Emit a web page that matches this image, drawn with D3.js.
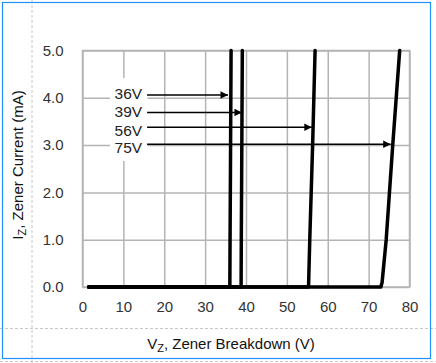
<!DOCTYPE html>
<html>
<head>
<meta charset="utf-8">
<script src="https://cdn.jsdelivr.net/npm/d3@7"></script>
<style>
  body { margin: 0; background: #fff; }
  text { font-family: "Liberation Sans", Arial, sans-serif; }
</style>
</head>
<body>
<div id="chart"></div>
<script>
// tick labels
var xTicks = [0, 10, 20, 30, 40, 50, 60, 70, 80];
var yTicks = [0, 1, 2, 3, 4, 5];

// curves: [Vz (V), Iz (mA)]
var curve36 = [[1.5, 0], [36.05, 0], [36.1, 1], [36.2, 2.5], [36.35, 5]];
var curve39 = [[1.5, 0], [38.8, 0], [38.85, 1], [38.95, 2.5], [39.1, 5]];
var curve56 = [[1.5, 0], [55.3, 0], [55.6, 1], [55.95, 2], [56.3, 3], [56.6, 4], [56.9, 5]];
var curve75 = [[1.5, 0], [73.0, 0], [73.3, 0.1], [74.3, 1], [75.1, 2], [75.9, 3], [76.75, 4], [77.6, 5]];

// arrow annotations
var arrowLabels = ["36V", "39V", "56V", "75V"];
var labelI = [3.97, 3.59, 3.2, 2.83];
var arrowI = [4.06, 3.69, 3.38, 3.02];
var arrowTipV = [35.6, 39.0, 56.1, 75.4];

var W = 436, H = 363;

var svg = d3.select('#chart')
    .append("svg")
    .attr("width", W)
    .attr("height", H);

var x = d3.scaleLinear().domain([0, 80]).range([82.5, 409.5]),
    y = d3.scaleLinear().domain([0, 5]).range([287, 50.5]);

svg.append("defs").append("marker")
    .attr("id", "head")
    .attr("viewBox", "0 0 10 10")
    .attr("refX", 10).attr("refY", 5)
    .attr("markerWidth", 6).attr("markerHeight", 5)
    .attr("markerUnits", "strokeWidth")
    .attr("orient", "auto")
    .append("path")
    .attr("d", "M0,0L10,5L0,10Z")
    .attr("fill", "#000");

// frame lines around the figure
svg.append("line").attr("x1", 32).attr("x2", 32).attr("y1", 0).attr("y2", H)
    .attr("stroke", "#c8c8c8").attr("stroke-dasharray", "3,2");
svg.append("line").attr("x1", 0).attr("x2", W).attr("y1", 328.5).attr("y2", 328.5)
    .attr("stroke", "#c8c8c8").attr("stroke-dasharray", "3,2");
svg.append("line").attr("x1", 0).attr("x2", W).attr("y1", 361.5).attr("y2", 361.5)
    .attr("stroke", "#c8c8c8").attr("stroke-dasharray", "3,2");
svg.append("rect")
    .attr("x", 2.5).attr("y", 2.5).attr("width", 428).attr("height", 356)
    .attr("fill", "none").attr("stroke", "#1e90ff").attr("stroke-width", 1.2);

var g = svg.append("g");

// grid
g.append("g")
    .attr("class", "grid")
    .attr("transform", "translate(0," + y(0) + ")")
    .call(d3.axisBottom(x).tickValues(xTicks).tickSize(-(y(0) - y(5))).tickFormat(""))
    .call(function (s) { s.select(".domain").remove(); });

g.append("g")
    .attr("class", "grid")
    .attr("transform", "translate(" + x(0) + ",0)")
    .call(d3.axisLeft(y).tickValues(yTicks).tickSize(-(x(80) - x(0))).tickFormat(""))
    .call(function (s) { s.select(".domain").remove(); });

g.selectAll(".grid line").attr("stroke", "#b4b4b4").attr("stroke-width", 1.5);

g.append("rect")
    .attr("x", x(0)).attr("y", y(5))
    .attr("width", x(80) - x(0)).attr("height", y(0) - y(5))
    .attr("fill", "none").attr("stroke", "#b4b4b4").attr("stroke-width", 1.5);

// tick labels
var xAx = g.append("g")
    .attr("transform", "translate(0," + y(0) + ")")
    .call(d3.axisBottom(x).tickValues(xTicks).tickSize(0).tickPadding(14));
xAx.select(".domain").remove();
xAx.selectAll("text").attr("font-size", 15).attr("fill", "#333").attr("font-family", "Liberation Sans, Arial, sans-serif");

var yAx = g.append("g")
    .attr("transform", "translate(" + x(0) + ",0)")
    .call(d3.axisLeft(y).tickValues(yTicks).tickSize(0).tickPadding(19).tickFormat(d3.format(".1f")));
yAx.select(".domain").remove();
yAx.selectAll("text").attr("font-size", 15).attr("fill", "#333").attr("font-family", "Liberation Sans, Arial, sans-serif");

// label backdrop
g.append("rect")
    .attr("x", 110).attr("y", 78).attr("width", 37.5).attr("height", 83)
    .attr("fill", "#fff");

// curves
var line = d3.line()
    .x(function (d) { return x(d[0]); })
    .y(function (d) { return y(d[1]); });

[curve36, curve39, curve56, curve75].forEach(function (c) {
    g.append("path")
        .datum(c)
        .attr("d", line)
        .attr("fill", "none")
        .attr("stroke", "#000")
        .attr("stroke-width", 3.5)
        .attr("stroke-linejoin", "round")
        .attr("stroke-linecap", "round");
});

// annotations
arrowLabels.forEach(function (lab, i) {
    g.append("text")
        .attr("x", x(14.6))
        .attr("y", y(labelI[i]))
        .attr("text-anchor", "end")
        .attr("font-size", 15.5)
        .attr("fill", "#222")
        .text(lab);
    g.append("line")
        .attr("x1", x(15.8)).attr("x2", x(arrowTipV[i]))
        .attr("y1", y(arrowI[i])).attr("y2", y(arrowI[i]))
        .attr("stroke", "#000").attr("stroke-width", 1.5)
        .attr("marker-end", "url(#head)");
});

// axis titles
var yt = svg.append("text")
    .attr("transform", "translate(23,165) rotate(-90)")
    .attr("text-anchor", "middle")
    .attr("font-size", 15)
    .attr("fill", "#111");
yt.append("tspan").text("I");
yt.append("tspan").attr("font-size", 11).attr("dy", 3).text("Z");
yt.append("tspan").attr("dy", -3).text(", Zener Current (mA)");

var xt = svg.append("text")
    .attr("x", 231).attr("y", 349)
    .attr("text-anchor", "middle")
    .attr("font-size", 15)
    .attr("fill", "#111");
xt.append("tspan").text("V");
xt.append("tspan").attr("font-size", 11).attr("dy", 3).text("Z");
xt.append("tspan").attr("dy", -3).text(", Zener Breakdown (V)");
</script>
</body>
</html>
